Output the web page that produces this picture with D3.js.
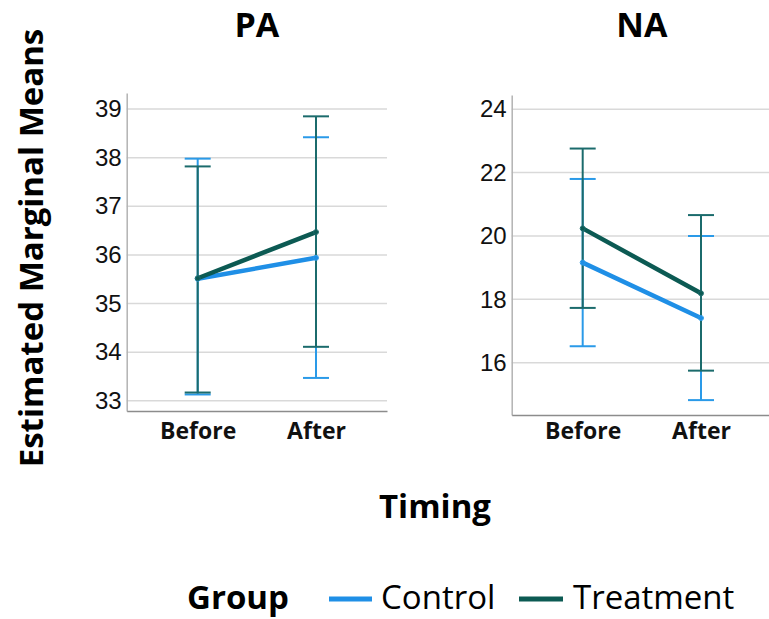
<!DOCTYPE html>
<html>
<head>
<meta charset="utf-8">
<script src="https://cdn.jsdelivr.net/npm/d3@7"></script>
<style>
  html, body { margin: 0; padding: 0; background: #fff; }
  svg { display: block; }
</style>
</head>
<body>
<svg id="chart" width="769" height="619"></svg>
<script>
// Estimated marginal means with 95% CI, by timing and group
const timings = ["Before", "After"];
const groups = ["Control", "Treatment"];

// PA panel
const paControlMean = [35.51, 35.94];
const paControlLow = [33.13, 33.47];
const paControlHigh = [37.98, 38.42];
const paTreatmentMean = [35.52, 36.47];
const paTreatmentLow = [33.17, 34.11];
const paTreatmentHigh = [37.82, 38.85];
const paTicks = [33, 34, 35, 36, 37, 38, 39];

// NA panel
const naControlMean = [19.16, 17.41];
const naControlLow = [16.52, 14.82];
const naControlHigh = [21.80, 20.00];
const naTreatmentMean = [20.24, 18.19];
const naTreatmentLow = [17.73, 15.75];
const naTreatmentHigh = [22.76, 20.66];
const naTicks = [16, 18, 20, 22, 24];

const colors = {
  Control: { line: "#1f8fe6", bar: "#2a9ae8" },
  Treatment: { line: "#0c5a53", bar: "#1b6b6c" }
};

const svg = d3.select("#chart");
const boldFont = "'Open Sans', sans-serif";
const tickFont = "'Liberation Sans', Arial, sans-serif";
const categoryBaseline = 439;

const panels = [
  {
    title: "PA", left: 126.7, right: 387, top: 93, bottom: 411,
    domain: [32.79, 39.33], ticks: paTicks,
    series: {
      Control: { mean: paControlMean, low: paControlLow, high: paControlHigh },
      Treatment: { mean: paTreatmentMean, low: paTreatmentLow, high: paTreatmentHigh }
    }
  },
  {
    title: "NA", left: 511.7, right: 772, top: 95, bottom: 415,
    domain: [14.35, 24.45], ticks: naTicks,
    series: {
      Control: { mean: naControlMean, low: naControlLow, high: naControlHigh },
      Treatment: { mean: naTreatmentMean, low: naTreatmentLow, high: naTreatmentHigh }
    }
  }
];

panels.forEach(p => {
  const x = d3.scalePoint().domain(timings).range([p.left, p.right]).padding(0.6);
  const y = d3.scaleLinear().domain(p.domain).range([p.bottom, p.top]);
  const g = svg.append("g");

  // gridlines
  g.append("g")
    .selectAll("line")
    .data(p.ticks)
    .join("line")
    .attr("x1", p.left).attr("x2", p.right)
    .attr("y1", d => y(d)).attr("y2", d => y(d))
    .attr("stroke", "#d9d9d9").attr("stroke-width", 1.5);

  // y axis
  const yAxis = g.append("g")
    .attr("transform", `translate(${p.left},0)`)
    .call(d3.axisLeft(y).tickValues(p.ticks).tickSize(0).tickPadding(5).tickFormat(d3.format("d")));
  yAxis.select(".domain").attr("stroke", "#b3b3b3").attr("stroke-width", 1.5);
  yAxis.selectAll("text")
    .attr("font-family", tickFont).attr("font-size", 24).attr("fill", "#111");

  // x axis
  const xAxis = g.append("g")
    .attr("transform", `translate(0,${p.bottom})`)
    .call(d3.axisBottom(x).tickSize(0).tickPadding(0));
  xAxis.select(".domain").attr("stroke", "#8c8c8c").attr("stroke-width", 1.5);
  xAxis.selectAll("text")
    .attr("y", categoryBaseline - p.bottom).attr("dy", 0)
    .attr("font-family", boldFont).attr("font-weight", 700)
    .attr("font-size", 23).attr("fill", "#111");

  // error bars
  groups.forEach(gr => {
    const s = p.series[gr];
    const col = colors[gr].bar;
    const eb = g.append("g");
    timings.forEach((t, i) => {
      const cx = x(t);
      eb.append("line")
        .attr("x1", cx).attr("x2", cx)
        .attr("y1", y(s.low[i])).attr("y2", y(s.high[i]))
        .attr("stroke", col).attr("stroke-width", 2);
      [s.low[i], s.high[i]].forEach(v => {
        eb.append("line")
          .attr("x1", cx - 13).attr("x2", cx + 13)
          .attr("y1", y(v)).attr("y2", y(v))
          .attr("stroke", col).attr("stroke-width", 2);
      });
    });
  });

  // mean lines
  const line = d3.line().x((d, i) => x(timings[i])).y(d => y(d));
  groups.forEach(gr => {
    const s = p.series[gr];
    g.append("path")
      .datum(s.mean)
      .attr("d", line)
      .attr("fill", "none")
      .attr("stroke", colors[gr].line)
      .attr("stroke-width", 4.5)
      .attr("stroke-linecap", "round");
    g.append("g")
      .selectAll("circle")
      .data(s.mean)
      .join("circle")
      .attr("cx", (d, i) => x(timings[i]))
      .attr("cy", d => y(d))
      .attr("r", 2.5)
      .attr("fill", "none")
      .attr("stroke", colors[gr].bar)
      .attr("stroke-width", 1);
  });

  // panel title
  svg.append("text")
    .attr("x", (p.left + p.right) / 2)
    .attr("y", 37)
    .attr("text-anchor", "middle")
    .attr("font-family", boldFont).attr("font-weight", 700)
    .attr("font-size", 34).attr("fill", "#000")
    .text(p.title);
});

// y axis title
svg.append("text")
  .attr("transform", "translate(43,248) rotate(-90)")
  .attr("text-anchor", "middle")
  .attr("font-family", boldFont).attr("font-weight", 700)
  .attr("font-size", 33).attr("fill", "#000")
  .text("Estimated Marginal Means");

// x axis title
svg.append("text")
  .attr("x", 435).attr("y", 518)
  .attr("text-anchor", "middle")
  .attr("font-family", boldFont).attr("font-weight", 700)
  .attr("font-size", 33).attr("fill", "#000")
  .text("Timing");

// legend
const legend = svg.append("g");
legend.append("text")
  .attr("x", 187).attr("y", 609)
  .attr("font-family", boldFont).attr("font-weight", 700)
  .attr("font-size", 33).attr("fill", "#000")
  .text("Group");
const legendItems = [
  { name: groups[0], x1: 329, x2: 372, tx: 381 },
  { name: groups[1], x1: 519, x2: 563, tx: 573 }
];
legendItems.forEach(it => {
  legend.append("line")
    .attr("x1", it.x1).attr("x2", it.x2)
    .attr("y1", 599).attr("y2", 599)
    .attr("stroke", colors[it.name].line).attr("stroke-width", 5);
  legend.append("text")
    .attr("x", it.tx).attr("y", 609)
    .attr("font-family", boldFont)
    .attr("font-size", 33).attr("fill", "#000")
    .text(it.name);
});
</script>
</body>
</html>
